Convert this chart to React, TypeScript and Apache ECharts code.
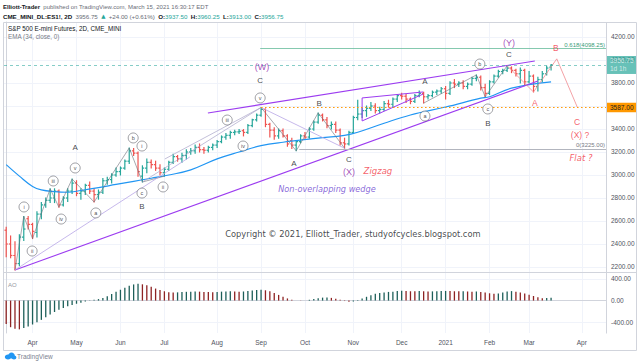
import { useEffect, useRef } from 'react';
import * as echarts from 'echarts';

// ---- OHLC (2D bars) ----
const opens = [2520,2400,2300,2230,2460,2620,2570,2500,2660,2740,2780,2800,2860,2740,2800,2860,2930,2840,2860,2910,2860,2830,2850,2950,2960,3000,3030,3060,3120,3210,3190,2990,3060,3110,3090,3060,3020,3050,3110,3160,3140,3170,3200,3210,3240,3220,3215,3240,3260,3290,3330,3345,3370,3375,3385,3370,3430,3480,3520,3570,3440,3390,3340,3385,3340,3300,3260,3290,3340,3330,3400,3460,3520,3480,3430,3440,3390,3280,3270,3370,3500,3530,3560,3580,3600,3560,3570,3620,3615,3660,3690,3685,3660,3640,3690,3710,3680,3690,3720,3730,3750,3710,3800,3790,3800,3770,3790,3840,3850,3760,3710,3810,3860,3900,3910,3930,3910,3880,3910,3810,3860,3770,3830,3880,3937.5];
const highs = [2545,2470,2420,2480,2640,2640,2580,2680,2760,2800,2880,2880,2870,2810,2880,2965,2950,2880,2920,2940,2880,2870,2970,2980,3010,3060,3070,3130,3235,3230,3200,3080,3140,3130,3120,3090,3060,3120,3180,3170,3190,3220,3230,3260,3270,3240,3250,3270,3300,3340,3360,3380,3390,3395,3395,3440,3485,3530,3587,3575,3450,3410,3400,3400,3350,3320,3300,3350,3370,3410,3470,3540,3530,3500,3460,3460,3400,3320,3380,3510,3650,3580,3600,3630,3620,3590,3640,3650,3670,3700,3710,3700,3670,3700,3730,3720,3700,3730,3740,3760,3770,3810,3830,3810,3820,3800,3850,3870,3860,3790,3820,3870,3910,3920,3950,3940,3920,3930,3920,3900,3870,3850,3900,3945,3960.25];
const lows = [2290,2280,2174,2210,2430,2530,2447,2460,2620,2720,2760,2760,2720,2730,2770,2840,2820,2790,2830,2840,2765,2790,2840,2920,2930,2990,3000,3050,3100,3170,2990,2939,3020,3060,3040,3000,2990,3040,3100,3120,3110,3140,3180,3190,3200,3190,3200,3220,3240,3280,3310,3320,3350,3360,3340,3360,3420,3470,3510,3420,3330,3310,3320,3330,3250,3230,3210,3280,3310,3320,3390,3450,3470,3410,3400,3370,3260,3233,3260,3360,3480,3500,3510,3560,3540,3540,3560,3590,3590,3640,3660,3630,3620,3630,3680,3625,3660,3680,3700,3710,3660,3700,3760,3770,3750,3750,3780,3820,3740,3680,3700,3800,3850,3880,3900,3890,3860,3800,3780,3800,3722,3730,3810,3870,3913];
const closes = [2400,2300,2230,2460,2530,2570,2510,2660,2740,2780,2800,2860,2740,2800,2860,2930,2840,2860,2910,2860,2830,2850,2950,2960,3000,3030,3060,3120,3210,3190,3030,3060,3110,3090,3060,3020,3050,3110,3160,3140,3170,3200,3210,3240,3220,3215,3240,3260,3290,3330,3345,3370,3375,3380,3370,3430,3480,3520,3570,3440,3390,3340,3385,3340,3270,3260,3290,3340,3330,3400,3460,3520,3480,3430,3440,3390,3280,3270,3370,3500,3530,3560,3580,3600,3560,3570,3620,3615,3660,3690,3685,3660,3640,3690,3710,3680,3690,3720,3730,3750,3710,3800,3790,3800,3770,3790,3840,3850,3760,3710,3810,3860,3900,3910,3930,3910,3880,3910,3810,3860,3770,3830,3880,3930,3956.75];

// ---- Awesome Oscillator ----
const aoValues = [-430,-490,-520,-530,-505,-475,-440,-400,-355,-305,-255,-210,-170,-135,-105,-80,-58,-38,-18,5,15,28,50,80,120,165,200,235,275,298,310,300,285,255,222,195,172,155,150,152,158,162,165,168,165,160,158,155,160,165,168,170,166,164,168,175,185,195,200,190,170,140,105,70,40,15,3,-3,2,15,30,45,55,58,50,35,15,-8,-22,-15,10,40,70,100,125,140,150,160,165,175,180,178,172,170,175,172,168,170,172,175,178,176,172,170,172,168,165,168,160,148,135,128,132,150,168,175,165,150,132,110,85,60,42,48,52];

// ---- EMA(34) read points [bar, value] ----
const emaPoints = [[0,3090],[3,2990],[6,2900],[8,2870],[11,2855],[14,2850],[17,2865],[21,2890],[25,2918],[29,2945],[33,2972],[37,3000],[42,3045],[48,3140],[53,3200],[58,3255],[63,3285],[71,3320],[77,3345],[80,3372],[86,3450],[92,3522],[100,3591],[108,3668],[110,3680],[115,3755],[124,3810]];

// ---- axis ticks ----
const monthTickBars = [6,16,26,36,48,58,68,79,90,100,110,119,131];
const monthTickLabels = ['Apr','May','Jun','Jul','Aug','Sep','Oct','Nov','Dec','2021','Feb','Mar','Apr'];
const priceTicks = [2200,2400,2600,2800,3000,3200,3400,3600,3800,4000,4200];
const aoTicks = [-400,0,400];

// ---- drawings [bar, price] ----
const wedgeLower = [[2,2174],[121,3817]];
const wedgeUpper = [[45.9,3539],[120.3,3991]];
const innerWedge = [[94.9,3722],[81,3670],[81,3470],[94.9,3704]];
const waveLine1 = [[2,2174],[4,2640],[6,2447],[10,2880],[12,2720],[15,2965],[20,2765],[28,3235],[31,2939],[36,2990]];
const guide1 = [[2,2174],[41.8,3157]];
const guide2 = [[31,2939],[58,3587]];
const guide3 = [[36.1,3139],[58,3587]];
const zigzagX = [[58,3587],[66,3210],[71,3540],[77,3233]];
const guideVX = [[58,3587],[77,3233]];
const waveLine3 = [[95,3625],[107,3870],[109,3680],[114,3950]];
const projection = [[114,3950],[120,3722],[125.3,4010],[130,3587]];
const lastPrice = 3956.75;
const level3587 = 3587;
const fib618 = 4098.25;
const fib0 = 3225;

// ---- labels [text, bar, price] ----
const plainLabels = [['A',15.7,3235],['B',30.9,2722],['C',57.8,3826],['A',65.5,3104],['B',71.2,3626],['C',78,3139],['A',95.3,3809],['B',109.6,3452],['C',114.4,4052]];
const purpleLabels = [['(W)',58.2,3939],['(X)',78,3026],['(Y)',114.4,4148]];
const redLabels = [['A',120.3,3626],['B',125.1,4104],['C',129.9,3461],['(X) ?',130.6,3348]];
const redItalic = [['Zigzag',84.6,3035],['Flat ?',130.8,3148]];
const circled = [['i',4.05,2722],['ii',5.9,2339],['iii',10.7,2948],['iv',12.5,2617],['v',15.7,3061],['a',20.4,2670],['b',28.9,3322],['i',30.9,3252],['c',30.9,2843],['ii',35.7,2896],['iii',50.3,3478],['iv',53.9,3252],['v',57.8,3670],['a',95.3,3513],['b',107.8,3965],['c',109.6,3574]];
const wedgeNote = [['Non-overlapping wedge',73.0,2878]];
const copyright = [['Copyright © 2021, Elliott_Trader, studyofcycles.blogspot.com',78.9,2487]];

const UP = '#26a69a';
const DOWN = '#ef5350';
const FONT = 'Liberation Sans, Arial, sans-serif';

function polyline(data: number[][], color: string, width: number, type: any = 'solid', z = 3) {
  return {
    type: 'line', xAxisIndex: 0, yAxisIndex: 0, data, showSymbol: false, symbol: 'none',
    lineStyle: { color, width, type }, silent: true, z, animation: false,
  };
}

function labelSeries(items: any[], label: any, symbol: any = null) {
  return {
    type: 'scatter', xAxisIndex: 0, yAxisIndex: 0, silent: true, z: 6,
    symbol: 'circle',
    symbolSize: symbol ? symbol.size : 1,
    itemStyle: symbol ? { color: '#ffffff', borderColor: '#55575f', borderWidth: 0.7 } : { color: 'rgba(0,0,0,0)' },
    data: items.map((d) => ({ value: [d[1], d[2]], name: d[0] })),
    label: { show: true, position: 'inside', formatter: '{b}', fontFamily: FONT, ...label },
  };
}

export default function App() {
  const ref = useRef<HTMLDivElement>(null);
  useEffect(() => {
    const chart = echarts.init(ref.current!, null, { renderer: 'svg' });
    const ohlcData = opens.map((o, i) => [i, o, highs[i], lows[i], closes[i]]);
    const aoData = aoValues.map((v, i) => ({
      value: [i, v],
      itemStyle: { color: i === 0 || v < aoValues[i - 1] ? '#8e2323' : '#1d5f59' },
    }));
    const xCommon = (gi: number, showLabel: boolean) => ({
      type: 'value', gridIndex: gi, min: -0.5, max: 136.5,
      axisLine: { show: gi === 1, lineStyle: { color: '#d1d4dc' } },
      axisTick: { show: false, customValues: monthTickBars },
      axisLabel: {
        show: showLabel, customValues: monthTickBars, fontSize: 6.5, color: '#50535e', margin: 6, fontFamily: FONT,
        formatter: (v: number) => { const k = monthTickBars.indexOf(Math.round(v)); return k >= 0 ? monthTickLabels[k] : ''; },
      },
      splitLine: { show: true, lineStyle: { color: '#f0f3fa', width: 1 } },
    });
    const option: any = {
      animation: false,
      backgroundColor: '#ffffff',
      textStyle: { fontFamily: FONT },
      grid: [
        { left: 4, right: 34, top: 22, height: 250 },
        { left: 4, right: 34, top: 272, height: 61 },
      ],
      xAxis: [xCommon(0, false), xCommon(1, true)],
      yAxis: [
        {
          type: 'value', gridIndex: 0, position: 'right', min: 2156.5, max: 4330.4, scale: true,
          axisLine: { show: true, lineStyle: { color: '#d1d4dc' } },
          axisTick: { show: false, customValues: priceTicks },
          axisLabel: { customValues: priceTicks, formatter: (v: number) => v.toFixed(2), fontSize: 6.5, color: '#50535e', margin: 5, fontFamily: FONT },
          splitLine: { show: true, lineStyle: { color: '#f0f3fa' } },
        },
        {
          type: 'value', gridIndex: 1, position: 'right', min: -597, max: 527,
          axisLine: { show: true, lineStyle: { color: '#d1d4dc' } },
          axisTick: { show: false, customValues: aoTicks },
          axisLabel: { customValues: aoTicks, formatter: (v: number) => v.toFixed(2), fontSize: 6.5, color: '#50535e', margin: 5, fontFamily: FONT },
          splitLine: { show: true, lineStyle: { color: '#f0f3fa' } },
        },
      ],
      series: [
        {
          type: 'custom', xAxisIndex: 0, yAxisIndex: 0, z: 2, silent: true,
          encode: { x: 0, y: [1, 2, 3, 4] },
          data: ohlcData,
          renderItem: (_p: any, api: any) => {
            const x = api.value(0), o = api.value(1), h = api.value(2), l = api.value(3), c = api.value(4);
            const top = api.coord([x, h]);
            const bot = api.coord([x, l]);
            const po = api.coord([x, o]);
            const pc = api.coord([x, c]);
            const w = api.size([1, 0])[0] * 0.4;
            const st = { stroke: c >= o ? UP : DOWN, lineWidth: 1.2 };
            return {
              type: 'group',
              children: [
                { type: 'line', shape: { x1: top[0], y1: top[1] - 0.5, x2: bot[0], y2: bot[1] + 0.5 }, style: st },
                { type: 'line', shape: { x1: po[0] - w, y1: po[1], x2: po[0], y2: po[1] }, style: st },
                { type: 'line', shape: { x1: pc[0], y1: pc[1], x2: pc[0] + w, y2: pc[1] }, style: st },
              ],
            };
          },
        },
        {
          type: 'line', xAxisIndex: 0, yAxisIndex: 0, data: emaPoints, smooth: 0.4, showSymbol: false, symbol: 'none',
          lineStyle: { color: '#2196f3', width: 1.2 }, silent: true, z: 3,
          markLine: {
            silent: true, symbol: ['none', 'none'], animation: false,
            data: [
              { yAxis: lastPrice, lineStyle: { color: '#26a69a', type: [3, 3], width: 0.8, opacity: 0.7 },
                label: { position: 'end', distance: 1, formatter: '3956.75\n1d 1h', backgroundColor: '#26a69a', color: '#ffffff', fontSize: 6.5, lineHeight: 8, padding: [1, 3, 1, 3], fontFamily: FONT } },
              [ { coord: [58, level3587], lineStyle: { color: '#ff9800', type: [1.5, 2.5], width: 1.2 },
                  label: { position: 'end', distance: 1, formatter: '3587.00', backgroundColor: '#ff9800', color: '#1e1e1e', fontSize: 6.5, padding: [1.5, 3, 1, 3], fontFamily: FONT } },
                { coord: [136.5, level3587] } ],
              [ { coord: [57.8, fib618], lineStyle: { color: '#66bb9a', type: 'solid', width: 0.8 },
                  label: { position: 'insideEndTop', distance: 1, formatter: '0.618(4098.25)', color: '#3a9d7a', fontSize: 6, fontFamily: FONT } },
                { coord: [136.5, fib618] } ],
              [ { coord: [66.7, fib0], lineStyle: { color: '#b2b5be', type: 'solid', width: 1.2 },
                  label: { position: 'insideEndTop', distance: 1, formatter: '0(3225.00)', color: '#787b86', fontSize: 6, fontFamily: FONT } },
                { coord: [136.5, fib0] } ],
            ],
          },
        },
        polyline(wedgeLower, '#9c3cf0', 1.1),
        polyline(wedgeUpper, '#9c3cf0', 1.1),
        polyline(innerWedge, '#9c3cf0', 1.0),
        polyline(waveLine1, '#6b6e78', 0.6),
        polyline(guide1, '#b8a6e6', 0.8),
        polyline(guide2, '#a9a3c9', 0.7),
        polyline(guide3, '#a9a3c9', 0.7),
        polyline(zigzagX, '#6b6e78', 0.6),
        polyline(guideVX, '#b8a6e6', 0.8),
        polyline(waveLine3, '#6b6e78', 0.6),
        polyline(projection, '#f08a8f', 0.8),
        labelSeries(plainLabels, { fontSize: 8, color: '#131722' }),
        labelSeries(purpleLabels, { fontSize: 9, color: '#8e24aa' }),
        labelSeries(redLabels, { fontSize: 8.5, color: '#f23645' }),
        labelSeries(redItalic, { fontSize: 8.5, color: '#f23645', fontStyle: 'italic', fontFamily: 'DejaVu Sans' }),
        labelSeries(wedgeNote, { fontSize: 8.2, color: '#6a3fd0', fontStyle: 'italic', fontFamily: 'DejaVu Sans' }),
        labelSeries(copyright, { fontSize: 8.3, color: '#131722', fontFamily: 'DejaVu Sans' }),
        labelSeries(circled, { fontSize: 5.5, color: '#131722' }, { size: 10 }),
        {
          type: 'bar', xAxisIndex: 1, yAxisIndex: 1, data: aoData, barWidth: 1.3, silent: true,
        },
      ],
      graphic: [
        { type: 'rect', shape: { x: 3.5, y: 22.5, width: 633, height: 328 }, style: { fill: 'none', stroke: '#d1d4dc', lineWidth: 1 }, silent: true, z: 10 },
        { type: 'line', shape: { x1: 3.5, y1: 272.5, x2: 636.5, y2: 272.5 }, style: { stroke: '#d1d4dc', lineWidth: 1 }, z: 10 },
        { type: 'line', shape: { x1: 606.5, y1: 22.5, x2: 606.5, y2: 333.5 }, style: { stroke: '#d1d4dc', lineWidth: 1 }, z: 10 },
        {
          type: 'text', left: 3, top: 1, z: 10,
          style: {
            text: '{b|Elliott-Trader} {g|published on TradingView.com, March 15, 2021 16:30:17 EDT}',
            rich: { b: { fontSize: 6, fontWeight: 'bold', fill: '#131722', fontFamily: FONT }, g: { fontSize: 6, fill: '#6a6d78', fontFamily: FONT } },
          },
        },
        {
          type: 'text', left: 3, top: 10, z: 10,
          style: {
            text: '{b|CME_MINI_DL:ES1!, 2D} {g|3956.75} {u|▲} {g|+24.00 (+0.61%)} {b|O:}{t|3937.50} {b|H:}{t|3960.25} {b|L:}{t|3913.00} {b|C:}{t|3956.75}',
            rich: {
              b: { fontSize: 6.2, fontWeight: 'bold', fill: '#131722', fontFamily: FONT },
              g: { fontSize: 6.2, fill: '#6a6d78', fontFamily: FONT },
              u: { fontSize: 5.5, fill: '#26a69a', fontFamily: 'DejaVu Sans' },
              t: { fontSize: 6.2, fill: '#26a69a', fontFamily: FONT },
            },
          },
        },
        { type: 'text', left: 8, top: 25, z: 10, style: { text: 'S&P 500 E-mini Futures, 2D, CME_MINI', fontSize: 6.3, fill: '#131722', fontFamily: FONT } },
        { type: 'text', left: 8, top: 33.5, z: 10, style: { text: 'EMA (34, close, 0)', fontSize: 6.3, fill: '#787b86', fontFamily: FONT } },
        { type: 'text', left: 8, top: 282, z: 10, style: { text: 'AO', fontSize: 6, fill: '#9598a1', fontFamily: FONT } },
        { type: 'ellipse', shape: { cx: 8, cy: 357, rx: 3.2, ry: 2.4 }, style: { fill: '#2196f3' }, z: 10 },
        { type: 'ellipse', shape: { cx: 11.5, cy: 355.5, rx: 3.2, ry: 3 }, style: { fill: '#2196f3' }, z: 10 },
        { type: 'ellipse', shape: { cx: 14, cy: 357.5, rx: 2.4, ry: 2 }, style: { fill: '#2196f3' }, z: 10 },
        { type: 'text', left: 17, top: 353, z: 10, style: { text: 'TradingView', fontSize: 6.5, fill: '#7b8190', fontFamily: FONT } },
      ],
    };
    chart.setOption(option);
    return () => chart.dispose();
  }, []);
  return (
    <div
      ref={ref}
      style={{ position: 'fixed', left: 0, top: 0, width: 640, height: 363, background: '#ffffff' }}
    />
  );
}
